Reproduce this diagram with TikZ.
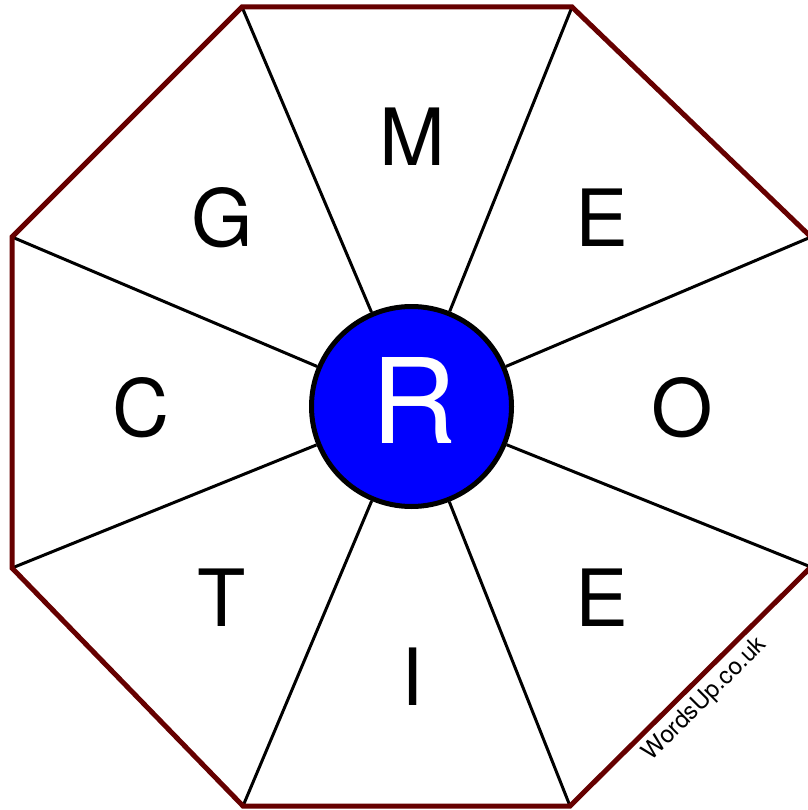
\documentclass[tikz,border=0pt]{standalone}
\usepackage{fontspec}
\setmainfont{TeX Gyre Heros}
\definecolor{rimred}{RGB}{102,0,0}
\definecolor{hubblue}{RGB}{0,0,255}
\begin{document}
\begin{tikzpicture}[x=1pt,y=-1pt,
  rim/.style={draw=rimred,line width=5pt,line join=miter},
  spoke/.style={draw=black,line width=3pt},
  hub/.style={circle,draw=black,fill=hubblue,line width=5pt,minimum size=200pt,inner sep=0pt},
  letter/.style={inner sep=0pt,font=\fontsize{79}{79}\selectfont},
  hubletter/.style={inner sep=0pt,text=white,font=\fontsize{118}{118}\selectfont},
  mark/.style={}]
\useasboundingbox (0,0) rectangle (807,810);
\coordinate (v1) at (242,7);
\coordinate (v2) at (572,7);
\coordinate (v3) at (811,237);
\coordinate (v4) at (811,567);
\coordinate (v5) at (570,806);
\coordinate (v6) at (243,806);
\coordinate (v7) at (12,568);
\coordinate (v8) at (12,237);
\node[hub] (c) at (411.5,406.5) {};
\foreach \v in {v1,v2,v3,v4,v5,v6,v7,v8}{\draw[spoke] (\v) -- (c);}
\draw[rim] (v1) -- (v2) -- (v3) -- (v4) -- (v5) -- (v6) -- (v7) -- (v8) -- cycle;
\node[hubletter] (r) at (414,400.5) {R};
\node[letter] (lm) at (412,137) {M};
\node[letter] (lg) at (222,218) {G};
\node[letter] (le1) at (602,218) {E};
\node[letter] (lc) at (141,408) {C};
\node[letter] (lo) at (682,408) {O};
\node[letter] (lt) at (222,598) {T};
\node[letter] (le2) at (602,598) {E};
\node[letter] (li) at (412,677) {I};
\node[inner sep=0pt,rotate=45,font=\fontsize{24}{24}\selectfont] (wm) at (705,699) {WordsUp.co.uk};
\end{tikzpicture}
\end{document}
